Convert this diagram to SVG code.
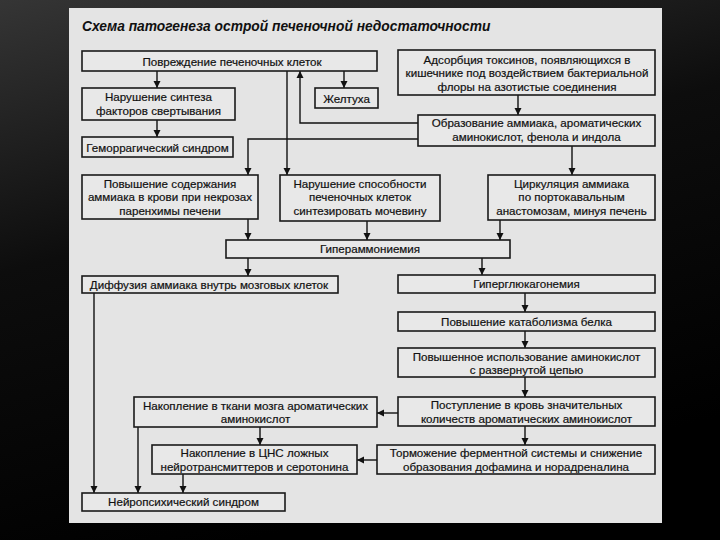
<svg xmlns="http://www.w3.org/2000/svg" width="720" height="540" viewBox="0 0 720 540">
<defs>
<linearGradient id="bg" x1="0" y1="0" x2="0.35" y2="1">
<stop offset="0" stop-color="#353535"/>
<stop offset="0.45" stop-color="#0d0d0d"/>
<stop offset="1" stop-color="#000"/>
</linearGradient>
<marker id="ah" viewBox="0 0 10 10" refX="10" refY="5" markerWidth="7" markerHeight="9" markerUnits="userSpaceOnUse" orient="auto">
<path d="M0,0 L10,5 L0,10 z" fill="#111"/>
</marker>
<style>
.b{fill:#e8e8e8;stroke:#1a1a1a;stroke-width:1.6}
.t{font-family:"Liberation Sans",Arial,sans-serif;font-size:11.6px;fill:#111;stroke:#111;stroke-width:0.2;text-anchor:middle}
.c{fill:none;stroke:#111;stroke-width:1.4;marker-end:url(#ah)}
</style>
</defs>
<rect width="720" height="540" fill="url(#bg)"/>
<rect x="69" y="8" width="593" height="515" fill="#e4e4e4"/>
<text x="82" y="31" font-family="Liberation Sans,Arial,sans-serif" font-size="13.8" font-weight="bold" font-style="italic" fill="#111">Схема патогенеза острой печеночной недостаточности</text>

<g id="connectors">
<path class="c" d="M157,71 V88"/>
<path class="c" d="M344,71 V88"/>
<path class="c" d="M287,71 V175"/>
<path class="c" d="M418,123 H300 V71"/>
<path class="c" d="M418,139 H248 V175"/>
<path class="c" d="M518,95 V115"/>
<path class="c" d="M157,120 V137"/>
<path class="c" d="M572,146 V175"/>
<path class="c" d="M248,219 V240"/>
<path class="c" d="M367,221 V240"/>
<path class="c" d="M500,220 V240"/>
<path class="c" d="M248,258 V276"/>
<path class="c" d="M482,258 V275"/>
<path class="c" d="M525,293 V312"/>
<path class="c" d="M525,331 V348"/>
<path class="c" d="M525,377 V397"/>
<path class="c" d="M398,413 H377"/>
<path class="c" d="M525,426 V445"/>
<path class="c" d="M260,427 V445"/>
<path class="c" d="M377,460 H357"/>
<path class="c" d="M94,293 V493"/>
<path class="c" d="M138,427 V493"/>
<path class="c" d="M183,474 V493"/>
</g>

<g id="n1"><rect class="b" x="82" y="51" width="295" height="20"/><text class="t" x="232" y="65.5">Повреждение печеночных клеток</text></g>
<g id="n2"><rect class="b" x="398" y="50" width="257" height="45"/><text class="t" x="527" y="63.5">Адсорбция токсинов, появляющихся в</text><text class="t" x="527" y="77.2">кишечнике под воздействием бактериальной</text><text class="t" x="527" y="91">флоры на азотистые соединения</text></g>
<g id="n3"><rect class="b" x="82" y="88" width="153" height="32"/><text class="t" x="158.5" y="101">Нарушение синтеза</text><text class="t" x="158.5" y="114.5">факторов свертывания</text></g>
<g id="n4"><rect class="b" x="315" y="88" width="63" height="20"/><text class="t" x="346.5" y="102.5">Желтуха</text></g>
<g id="n5"><rect class="b" x="82" y="137" width="151" height="20"/><text class="t" x="157.5" y="151.5">Геморрагический синдром</text></g>
<g id="n6"><rect class="b" x="418" y="115" width="237" height="31"/><text class="t" x="536.5" y="127">Образование аммиака, ароматических</text><text class="t" x="536.5" y="140.5">аминокислот, фенола и индола</text></g>
<g id="n7"><rect class="b" x="82" y="175" width="176" height="44"/><text class="t" x="170" y="188">Повышение содержания</text><text class="t" x="170" y="201.4">аммиака в крови при некрозах</text><text class="t" x="170" y="214.8">паренхимы печени</text></g>
<g id="n8"><rect class="b" x="280" y="175" width="160" height="46"/><text class="t" x="360" y="188">Нарушение способности</text><text class="t" x="360" y="201.4">печеночных клеток</text><text class="t" x="360" y="214.8">синтезировать мочевину</text></g>
<g id="n9"><rect class="b" x="488" y="175" width="167" height="45"/><text class="t" x="571.5" y="188">Циркуляция аммиака</text><text class="t" x="571.5" y="201.4">по портокавальным</text><text class="t" x="571.5" y="214.8">анастомозам, минуя печень</text></g>
<g id="n10"><rect class="b" x="226" y="240" width="284" height="18"/><text class="t" x="370" y="253">Гипераммониемия</text></g>
<g id="n11"><rect class="b" x="82" y="276" width="256" height="17"/><text class="t" x="209" y="288.5">Диффузия аммиака внутрь мозговых клеток</text></g>
<g id="n12"><rect class="b" x="398" y="275" width="257" height="18"/><text class="t" x="526.5" y="288">Гиперглюкагонемия</text></g>
<g id="n13"><rect class="b" x="398" y="312" width="257" height="19"/><text class="t" x="526.5" y="325.5">Повышение катаболизма белка</text></g>
<g id="n14"><rect class="b" x="398" y="348" width="257" height="29"/><text class="t" x="526.5" y="360.8">Повышенное использование аминокислот</text><text class="t" x="526.5" y="374.2">с развернутой цепью</text></g>
<g id="n15"><rect class="b" x="398" y="397" width="257" height="29"/><text class="t" x="526.5" y="409.3">Поступление в кровь значительных</text><text class="t" x="526.5" y="422.7">количеств ароматических аминокислот</text></g>
<g id="n16"><rect class="b" x="134" y="397" width="243" height="30"/><text class="t" x="255.5" y="409.8">Накопление в ткани мозга ароматических</text><text class="t" x="255.5" y="423.2">аминокислот</text></g>
<g id="n17"><rect class="b" x="152" y="445" width="205" height="29"/><text class="t" x="254.5" y="457.2">Накопление в ЦНС ложных</text><text class="t" x="254.5" y="470.6">нейротрансмиттеров и серотонина</text></g>
<g id="n18"><rect class="b" x="377" y="445" width="278" height="29"/><text class="t" x="516" y="457.2">Торможение ферментной системы и снижение</text><text class="t" x="516" y="470.6">образования дофамина и норадреналина</text></g>
<g id="n19"><rect class="b" x="82" y="493" width="203" height="18"/><text class="t" x="183.5" y="506">Нейропсихический синдром</text></g>
</svg>
